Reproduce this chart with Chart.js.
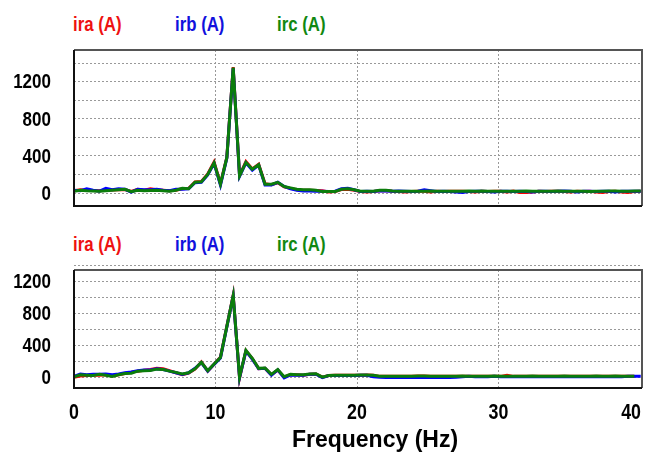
<!DOCTYPE html>
<html>
<head>
<meta charset="utf-8">
<style>
  body { margin: 0; background: #fff; }
  #wrap { position: relative; width: 645px; height: 455px; overflow: hidden; }
  #wrap canvas { position: absolute; left: 0; }
  .lg { position: absolute; font: bold 20px 'Liberation Sans', Arial, sans-serif; line-height: 20px; white-space: nowrap;
        transform: scaleX(0.84); transform-origin: left center; }
</style>
</head>
<body>
<div id="wrap">
  <span class="lg" style="left:73px;top:14px;color:#ee1111">ira (A)</span>
  <span class="lg" style="left:175px;top:14px;color:#1111dd">irb (A)</span>
  <span class="lg" style="left:277px;top:14px;color:#118811">irc (A)</span>
  <span class="lg" style="left:73px;top:234px;color:#ee1111">ira (A)</span>
  <span class="lg" style="left:175px;top:234px;color:#1111dd">irb (A)</span>
  <span class="lg" style="left:277px;top:234px;color:#118811">irc (A)</span>
  <canvas id="topChart" width="645" height="212" style="top:0"></canvas>
  <canvas id="botChart" width="645" height="240" style="top:215px"></canvas>
</div>
<script src="https://cdn.jsdelivr.net/npm/chart.js"></script>
<script>
// frequency bins (Hz)
const freqHz = [
  0,0.45,0.9,1.35,1.8,2.25,2.7,3.15,3.6,4.05,
  4.5,4.95,5.4,5.85,6.3,6.75,7.2,7.65,8.1,8.55,
  9,9.45,9.9,10.35,10.8,11.25,11.7,12.15,12.6,13.05,
  13.5,13.95,14.4,14.85,15.3,15.75,16.2,16.65,17.1,17.55,
  18,18.45,18.9,19.35,19.8,20.25,20.7,21.15,21.6,22.05,
  22.5,22.95,23.4,23.85,24.3,24.75,25.2,25.65,26.1,26.55,
  27,27.45,27.9,28.35,28.8,29.25,29.7,30.15,30.6,31.05,
  31.5,31.95,32.4,32.85,33.3,33.75,34.2,34.65,35.1,35.55,
  36,36.45,36.9,37.35,37.8,38.25,38.7,39.15,39.6,40.05
];

// upper panel
const topIra = [
  25,35,30,28,25,30,32,35,38,18,
  40,30,45,35,30,25,30,45,50,120,
  125,205,335,100,385,1355,190,340,260,310,
  100,90,110,65,50,35,30,30,28,25,
  10,15,38,40,30,15,10,15,25,28,
  20,15,10,15,20,18,10,20,15,20,
  20,18,15,10,20,15,20,18,12,20,
  5,5,10,20,15,20,18,15,10,20,
  15,20,10,5,15,20,10,5,15,20
];
const topIrb = [
  30,25,45,30,20,50,35,45,40,10,
  40,35,35,40,30,25,40,40,45,110,
  115,195,320,85,375,1345,180,325,245,300,
  85,85,115,70,45,30,22,22,18,20,
  15,20,45,50,35,15,20,15,25,22,
  20,22,20,15,20,35,25,15,20,15,
  10,5,15,20,20,15,10,20,20,15,
  20,15,10,20,20,15,20,22,20,10,
  20,20,15,20,20,10,20,20,18,20
];
const topIrc = [
  20,30,25,22,20,25,30,35,40,15,
  30,25,28,30,25,20,30,50,45,115,
  120,200,325,95,380,1350,185,330,255,305,
  95,95,115,70,55,40,35,35,30,15,
  15,15,40,45,35,20,20,18,30,30,
  22,20,20,20,20,20,22,20,20,20,
  20,20,22,18,22,20,20,20,20,20,
  20,22,20,20,18,20,22,20,20,20,
  20,15,20,20,22,22,20,20,22,22
];

// lower panel
const botIra = [
  5,20,25,30,30,35,20,35,50,65,
  80,90,100,115,110,85,60,35,55,105,
  195,80,165,255,640,1025,-5,335,235,110,
  115,35,95,5,38,35,30,40,45,5,
  25,30,30,30,28,30,33,28,15,15,
  15,15,15,15,20,18,15,15,15,15,
  15,15,15,15,15,15,15,15,30,15,
  15,15,15,15,15,15,15,15,15,15,
  15,15,15,15,15,15,15,15,15,null
];
const botIrb = [
  15,45,35,40,40,45,35,45,60,70,
  85,95,95,110,100,80,60,40,60,115,
  185,80,165,245,630,1015,0,330,230,110,
  115,30,95,-5,32,30,30,40,42,0,
  25,25,25,25,25,28,28,10,5,0,
  0,0,0,0,0,5,0,0,5,0,
  5,10,15,10,10,10,15,10,10,10,
  10,10,10,10,10,10,10,10,10,10,
  10,10,10,10,10,10,10,15,15,15
];
const botIrc = [
  10,35,30,25,40,30,15,35,50,55,
  80,85,88,105,100,80,65,45,60,110,
  190,85,170,250,635,1020,5,340,240,115,
  120,40,100,10,40,35,35,45,48,5,
  25,30,30,30,30,32,33,30,16,16,
  15,15,15,15,20,18,15,15,15,15,
  15,20,15,15,15,15,20,15,15,15,
  15,15,20,15,15,15,15,20,15,15,
  15,15,20,15,15,20,15,15,15,null
];

const xTicks = [0, 10, 20, 30, 40];
const yGrid = [0, 200, 400, 600, 800, 1000, 1200, 1400];
const yLabels = [0, 400, 800, 1200];

const FONT = "'Liberation Sans', Arial, sans-serif";

const framePlugin = {
  id: 'frame',
  afterDraw(chart) {
    const a = chart.chartArea, c = chart.ctx;
    c.save();
    c.lineWidth = 2;
    c.strokeStyle = '#555';
    c.beginPath();
    c.moveTo(a.left, a.top); c.lineTo(a.right, a.top); c.lineTo(a.right, a.bottom);
    c.stroke();
    c.strokeStyle = '#111';
    c.beginPath();
    c.moveTo(a.right, a.bottom); c.lineTo(a.left, a.bottom); c.lineTo(a.left, a.top);
    c.stroke();
    c.restore();
  }
};

// tick labels in a condensed bold face, placed with the chart's own scales
const labelPlugin = {
  id: 'narrowLabels',
  afterDraw(chart, args, opts) {
    const c = chart.ctx, sx = 0.81;
    const text = (s, x, y, align, size) => {
      c.save();
      c.font = 'bold ' + size + 'px ' + FONT;
      if (align === 'center') {
        // keep the label inside the canvas
        const half = c.measureText(s).width * sx / 2;
        x = Math.min(x, chart.width - 4 - half);
      }
      c.translate(x, y);
      c.scale(sx, 1);
      c.textAlign = align;
      c.textBaseline = 'middle';
      c.fillText(s, 0, 0);
      c.restore();
    };
    c.save();
    c.fillStyle = '#000';
    const ys = chart.scales.y;
    yLabels.forEach(v => text(String(v), 51, ys.getPixelForValue(v) + 1, 'right', 21));
    if (opts.showX) {
      const xs = chart.scales.x;
      xTicks.forEach(v => text(String(v), xs.getPixelForValue(v), xs.top + 25, 'center', 22));
      c.font = 'bold 23px ' + FONT;
      c.textAlign = 'center';
      c.textBaseline = 'middle';
      c.fillText('Frequency (Hz)', 375, xs.top + 53);
    }
    c.restore();
  }
};

function series(ys) {
  return freqHz.map((f, i) => ({ x: f, y: ys[i] }));
}

function makeChart(id, ira, irb, irc, yMin, yMax, padTop, xHeight, showX) {
  return new Chart(document.getElementById(id), {
    type: 'line',
    data: {
      datasets: [
        { label: 'irc (A)', data: series(irc), borderColor: '#0b7d0b', order: 0 },
        { label: 'irb (A)', data: series(irb), borderColor: '#0000ff', order: 1 },
        { label: 'ira (A)', data: series(ira), borderColor: '#ff0000', order: 2 }
      ]
    },
    options: {
      responsive: false,
      animation: false,
      layout: { padding: { top: padTop, right: 3, left: 0, bottom: 0 } },
      elements: { line: { borderWidth: 3, tension: 0 }, point: { radius: 0 } },
      plugins: { legend: { display: false }, tooltip: { enabled: false }, narrowLabels: { showX } },
      scales: {
        x: {
          type: 'linear', min: 0, max: 40.14,
          afterBuildTicks: s => { s.ticks = xTicks.map(v => ({ value: v })); },
          afterFit: s => { s.height = xHeight; s.paddingLeft = 0; s.paddingRight = 0; },
          grid: { drawTicks: false, color: c => (c.tick && (c.tick.value === 0 || c.tick.value === 40)) ? 'rgba(0,0,0,0)' : '#999' },
          border: { display: false, dash: [2, 2] },
          ticks: { display: false }
        },
        y: {
          min: yMin, max: yMax,
          afterBuildTicks: s => { s.ticks = yGrid.map(v => ({ value: v })); },
          afterFit: s => { s.width = 74; s.paddingTop = 0; s.paddingBottom = 0; },
          grid: { drawTicks: false, color: '#999' },
          border: { display: false, dash: [2, 2] },
          ticks: { display: false }
        }
      }
    },
    plugins: [framePlugin, labelPlugin]
  });
}

makeChart('topChart', topIra, topIrb, topIrc, -140, 1540, 50, 6, false);
makeChart('botChart', botIra, botIrb, botIrc, -130, 1340, 55, 67, true);
</script>
</body>
</html>
